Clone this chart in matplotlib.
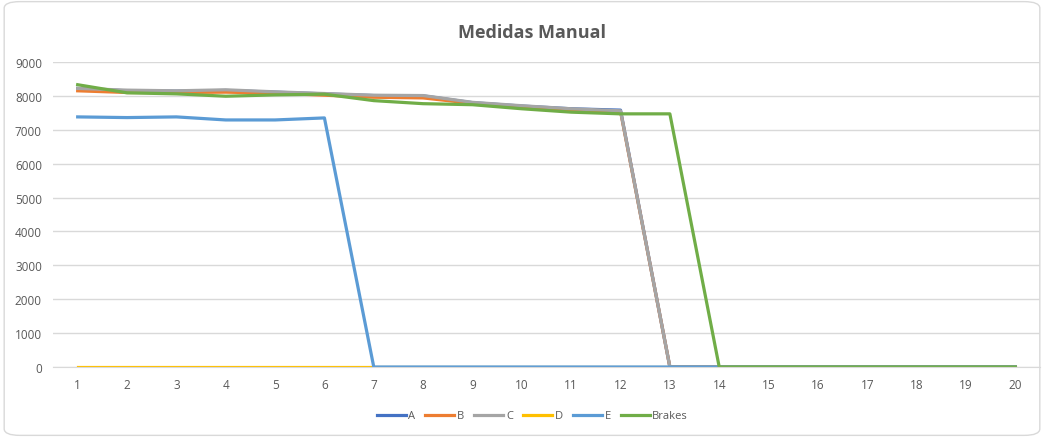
import matplotlib.pyplot as plt
from matplotlib.patches import FancyBboxPatch

plt.rcParams['font.family'] = ['Open Sans', 'DejaVu Sans']

x = list(range(1, 21))
zeros8 = [0] * 8
zeros7 = [0] * 7

A = [8220, 8150, 8140, 8160, 8110, 8060, 8010, 8000, 7800, 7700, 7620, 7580] + zeros8
B = [8150, 8100, 8100, 8110, 8080, 8020, 7960, 7940, 7780, 7680, 7590, 7540] + zeros8
C = [8220, 8170, 8150, 8180, 8120, 8070, 8020, 8010, 7810, 7710, 7620, 7560] + zeros8
D = [0] * 20
E = [7380, 7360, 7380, 7290, 7290, 7350] + [0] * 14
Brakes = [8330, 8090, 8060, 7990, 8030, 8050, 7860, 7770, 7740, 7620, 7520, 7470, 7470] + zeros7

series = [("A", A, "#4472C4"), ("B", B, "#ED7D31"), ("C", C, "#A5A5A5"),
          ("D", D, "#FFC000"), ("E", E, "#5B9BD5"), ("Brakes", Brakes, "#70AD47")]

fig = plt.figure(figsize=(10.44, 4.39), dpi=100)
fig.patches.append(FancyBboxPatch((0.004, 0.006), 0.992, 0.988,
                                  boxstyle="round,pad=0,rounding_size=0.015",
                                  transform=fig.transFigure, fill=False,
                                  edgecolor="#D9D9D9", linewidth=1))
ax = fig.add_axes([53 / 1044, 1 - 368 / 439, 987 / 1044, 305 / 439])

for name, vals, col in series:
    ax.plot(x, vals, color=col, linewidth=2.3, label=name, solid_joinstyle="round")

ax.set_xlim(0.5, 20.5)
ax.set_ylim(0, 9000)
ax.set_xticks(x)
ax.set_yticks(range(0, 9001, 1000))
ax.grid(axis="y", color="#D9D9D9", linewidth=1)
ax.set_axisbelow(True)
for s in ["top", "right", "left"]:
    ax.spines[s].set_visible(False)
ax.spines["bottom"].set_color("#D9D9D9")
ax.tick_params(length=0, labelsize=8.5, colors="#595959", pad=8)

fig.suptitle("Medidas Manual", x=0.51, y=0.945, fontsize=13, fontweight="bold", color="#595959")

leg = fig.legend(loc="center", bbox_to_anchor=(0.51, 1 - 417 / 439), ncol=6, frameon=False,
                 fontsize=8, handlelength=2.6, handletextpad=0.25, columnspacing=0.9)
for t in leg.get_texts():
    t.set_color("#595959")

fig.savefig("out.png", dpi=100)
